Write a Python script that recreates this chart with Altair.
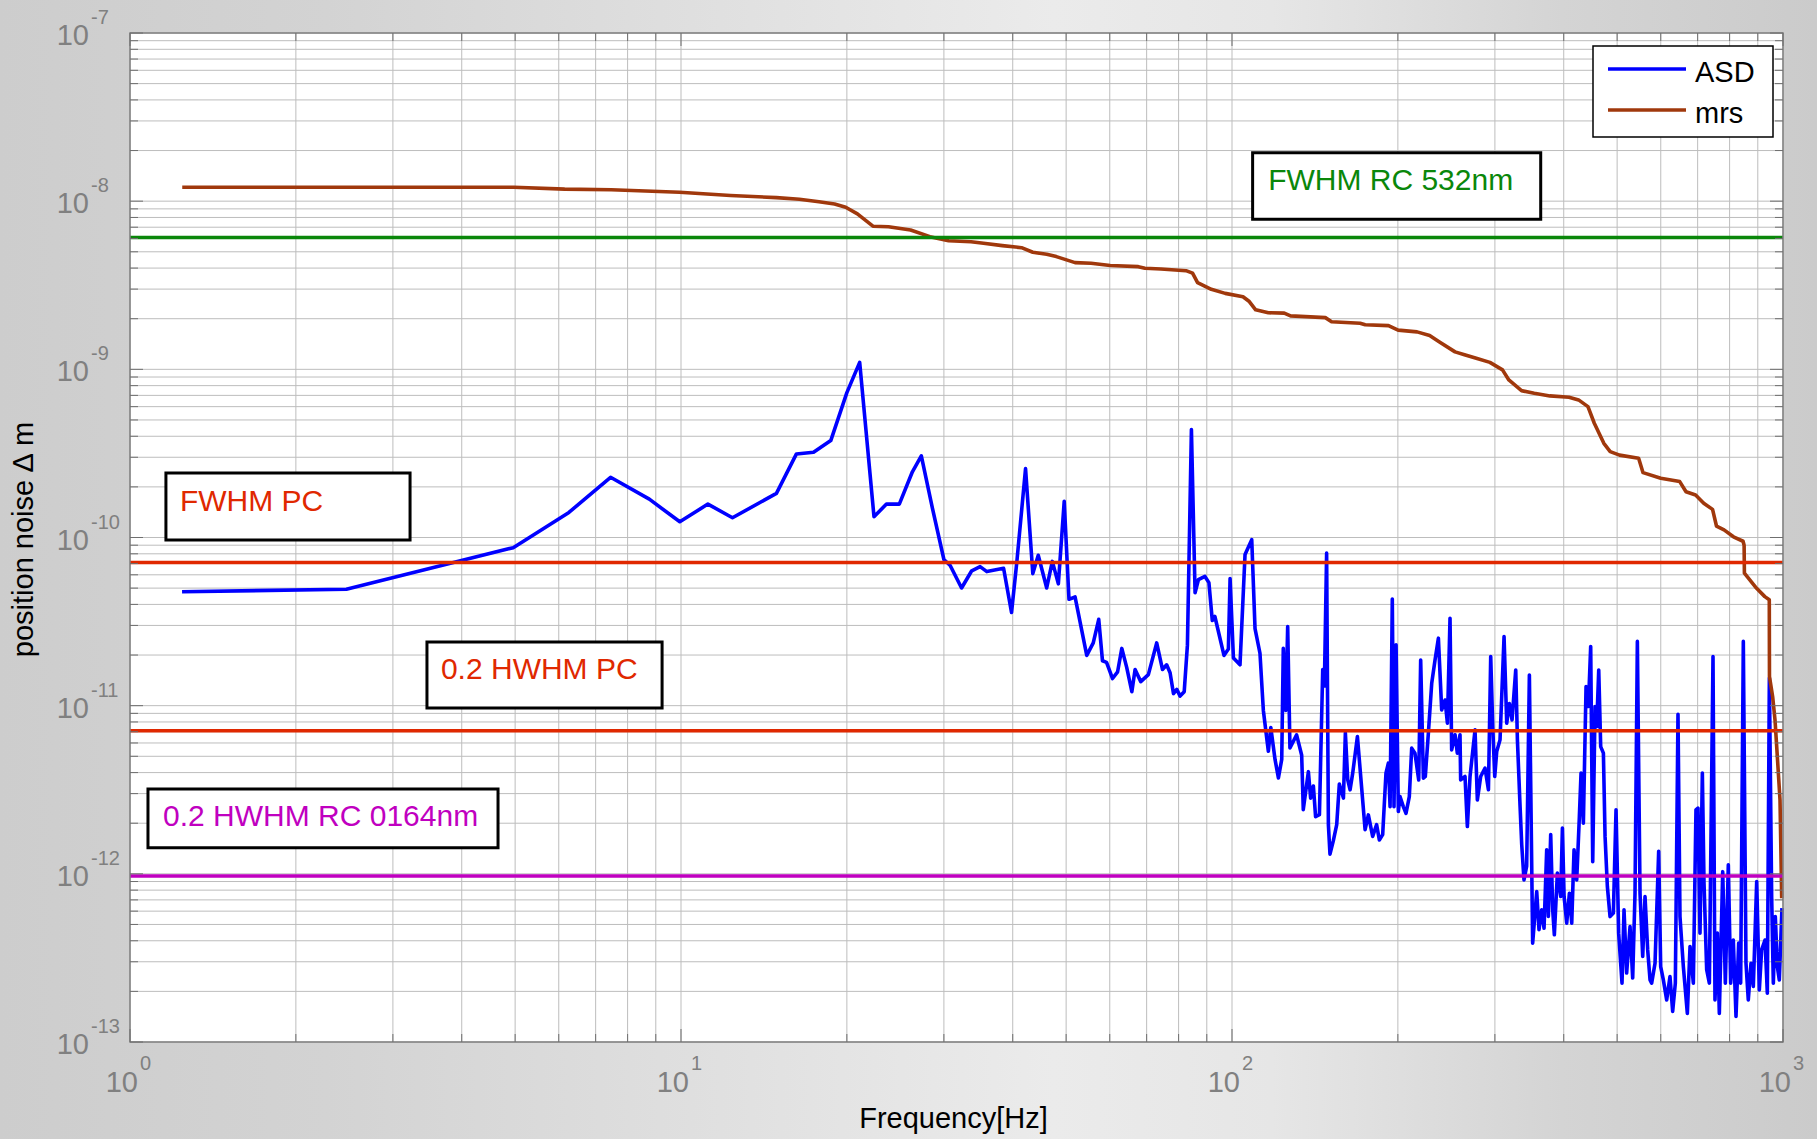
import altair as alt
import pandas as pd

# ---------------------------------------------------------------- data
# Position-noise amplitude spectral density: (frequency [Hz], amplitude [m])
asd_points_low = [
    (1.243, 4.76e-11), (2.47, 4.92e-11), (4.96, 8.7e-11), (6.26, 1.41e-10),
    (7.45, 2.28e-10), (8.76, 1.69e-10), (9.95, 1.24e-10), (11.19, 1.58e-10),
    (12.4, 1.31e-10), (14.9, 1.83e-10), (16.2, 3.14e-10), (17.4, 3.21e-10),
    (18.7, 3.77e-10), (20.0, 7.27e-10), (21.1, 1.10e-9), (22.4, 1.33e-10),
    (23.6, 1.58e-10), (24.9, 1.58e-10), (26.3, 2.46e-10), (27.3, 3.06e-10),
    (28.6, 1.49e-10), (30.0, 7.4e-11),
]
asd_points_mid = [
    (30.8, 6.82e-11), (32.3, 5.01e-11), (33.7, 6.34e-11), (34.9, 6.71e-11),
    (35.9, 6.27e-11), (38.5, 6.56e-11), (39.8, 3.58e-11), (40.7, 7.21e-11),
    (42.2, 2.57e-10), (43.5, 6.10e-11), (44.5, 7.84e-11), (46.1, 5.01e-11),
    (47.2, 7.21e-11), (48.4, 5.30e-11), (49.6, 1.64e-10), (50.6, 4.29e-11),
    (51.9, 4.43e-11), (54.5, 1.99e-11), (56.0, 2.36e-11), (57.3, 3.26e-11),
    (58.2, 1.85e-11), (59.2, 1.81e-11), (60.7, 1.45e-11), (62.0, 1.59e-11),
    (63.1, 2.19e-11), (64.4, 1.69e-11), (65.8, 1.21e-11), (66.7, 1.64e-11),
    (68.3, 1.39e-11), (70.5, 1.53e-11), (73.0, 2.36e-11), (74.8, 1.64e-11),
    (76.1, 1.75e-11), (77.2, 1.57e-11), (78.3, 1.18e-11), (79.4, 1.25e-11),
    (80.5, 1.14e-11), (81.9, 1.21e-11), (83.0, 2.29e-11), (84.4, 4.39e-10),
    (85.7, 4.69e-11), (86.9, 5.61e-11), (89.3, 5.87e-11), (90.8, 5.39e-11),
    (92.1, 3.21e-11), (93.1, 3.39e-11), (96.7, 1.99e-11), (98.5, 2.17e-11),
    (99.2, 5.70e-11), (100.6, 1.92e-11), (103.4, 1.75e-11), (105.6, 7.93e-11),
    (108.6, 9.70e-11), (110.1, 2.87e-11), (112.4, 2.05e-11), (114.0, 9.37e-12),
    (116.4, 5.36e-12), (117.6, 7.41e-12), (119.7, 4.79e-12), (121.4, 3.72e-12),
    (123.1, 4.79e-12), (123.9, 2.19e-11), (125.2, 9.37e-12), (126.2, 2.95e-11),
    (127.4, 5.60e-12), (131.0, 6.70e-12), (133.8, 5.07e-12), (134.7, 2.41e-12),
    (137.6, 4.05e-12), (138.9, 2.82e-12), (140.5, 3.33e-12), (141.8, 2.19e-12),
    (144.1, 2.25e-12), (146.1, 1.64e-11), (147.1, 1.31e-11), (148.5, 8.07e-11),
    (149.6, 1.96e-12), (150.6, 1.31e-12), (152.7, 1.57e-12), (154.9, 1.96e-12),
    (156.6, 3.42e-12), (159.3, 2.82e-12), (160.6, 6.89e-12), (162.2, 3.62e-12),
]
asd_points_high = [
    (163.8, 3.16e-12), (165.6, 3.97e-12), (168.9, 6.55e-12), (174.4, 1.83e-12),
    (176.8, 2.24e-12), (180.0, 1.67e-12), (183.0, 1.96e-12), (185.1, 1.59e-12),
    (187.7, 1.71e-12), (190.3, 3.97e-12), (192.2, 4.55e-12), (193.6, 2.51e-12),
    (195.4, 4.30e-11), (196.8, 2.51e-12), (198.5, 2.30e-11), (200.4, 2.35e-12),
    (201.8, 2.88e-12), (204.6, 2.51e-12), (206.9, 2.29e-12), (209.8, 2.88e-12),
    (211.9, 5.59e-12), (214.8, 5.22e-12), (218.2, 3.62e-12), (220.0, 1.87e-11),
    (222.5, 3.70e-12), (224.3, 3.79e-12), (227.2, 6.86e-12), (230.4, 1.36e-11),
    (233.6, 1.87e-11), (236.9, 2.52e-11), (240.2, 9.44e-12), (243.6, 1.08e-11),
    (246.0, 7.87e-12), (248.7, 3.31e-11), (250.4, 5.46e-12), (254.0, 6.71e-12),
    (256.4, 5.22e-12), (259.3, 6.71e-12), (260.0, 3.62e-12), (264.8, 3.79e-12),
    (267.4, 1.91e-12), (270.4, 3.79e-12), (276.1, 7.18e-12), (278.8, 2.75e-12),
    (282.7, 3.79e-12), (287.9, 4.25e-12), (292.0, 3.16e-12), (294.8, 1.96e-11),
    (297.3, 7.51e-12), (299.8, 3.79e-12), (302.3, 5.34e-12), (306.5, 6.26e-12),
    (311.7, 2.58e-11), (315.2, 7.87e-12), (318.7, 1.03e-11), (322.3, 8.23e-12),
    (327.3, 1.63e-11), (329.6, 6.26e-12), (333.3, 2.51e-12), (335.6, 1.49e-12),
    (338.8, 9.21e-13), (342.6, 1.11e-12), (346.5, 1.52e-11), (351.3, 3.87e-13),
    (357.3, 7.85e-13), (360.7, 4.65e-13), (364.8, 6.11e-13), (368.4, 4.75e-13),
    (372.5, 1.39e-12), (375.1, 5.57e-13), (378.8, 1.71e-12), (382.0, 6.11e-13),
    (384.6, 4.34e-13), (389.5, 1.01e-12), (395.0, 7.33e-13), (397.8, 1.87e-12),
    (400.6, 7.33e-13), (405.0, 5.09e-13), (409.6, 7.67e-13), (413.6, 5.09e-13),
    (417.6, 1.39e-12), (422.3, 9.21e-13), (427.0, 2.19e-12), (430.0, 3.97e-12),
    (434.2, 2.00e-12), (439.1, 1.30e-11), (443.4, 9.88e-12), (447.7, 2.25e-11),
    (451.5, 1.18e-12), (455.9, 9.88e-12), (459.1, 7.51e-12), (463.0, 1.63e-11),
    (466.8, 5.71e-12), (472.1, 5.22e-12), (475.4, 1.67e-12), (480.0, 8.41e-13),
    (485.4, 5.57e-13), (492.2, 5.84e-13), (497.7, 2.40e-12), (503.2, 4.44e-13),
    (510.3, 2.24e-13), (514.6, 6.11e-13), (520.3, 2.57e-13), (527.7, 4.86e-13),
    (533.6, 2.40e-13), (538.8, 7.67e-13), (544.1, 2.41e-11), (550.2, 7.67e-13),
    (556.4, 3.23e-13), (561.8, 7.33e-13), (568.1, 3.53e-13), (573.7, 2.34e-13),
    (577.6, 2.24e-13), (585.8, 2.94e-13), (594.8, 1.36e-12), (599.8, 2.81e-13),
    (606.5, 2.34e-13), (615.0, 1.78e-13), (623.6, 2.45e-13), (630.6, 1.52e-13),
    (637.7, 2.24e-13), (644.8, 8.90e-12), (650.2, 5.57e-13), (659.4, 2.81e-13),
    (670.5, 1.48e-13), (678.1, 3.70e-13), (687.5, 2.24e-13), (695.1, 2.40e-12),
    (701.0, 2.46e-12), (706.9, 4.44e-13), (713.9, 3.97e-12), (718.9, 8.80e-13),
    (726.9, 2.69e-13), (735.1, 2.24e-13), (746.4, 1.96e-11), (752.6, 1.78e-13),
    (760.1, 4.44e-13), (766.4, 1.48e-13), (777.3, 1.03e-12), (785.9, 2.24e-13),
    (795.7, 1.13e-12), (803.6, 2.24e-13), (812.5, 4.04e-13), (821.7, 1.42e-13),
    (830.9, 3.87e-13), (837.8, 2.24e-13), (847.2, 2.41e-11), (856.7, 2.94e-13),
    (865.0, 1.78e-13), (874.9, 2.94e-13), (883.4, 2.14e-13), (895.9, 9.0e-13),
    (905.8, 2.04e-13), (914.6, 3.53e-13), (927.6, 4.04e-13), (936.6, 1.95e-13),
    (944.6, 1.46e-11), (953.8, 7.17e-13), (960.4, 2.24e-13), (968.4, 5.57e-13),
    (976.6, 2.81e-13), (984.7, 2.34e-13), (995.7, 6.25e-13),
]

# Cumulative rms of the position noise: (frequency [Hz], rms [m])
mrs_points = [
    (1.244, 1.21e-8), (4.97, 1.21e-8), (6.15, 1.18e-8), (7.47, 1.17e-8),
    (9.94, 1.13e-8), (12.3, 1.08e-8), (14.9, 1.05e-8), (16.4, 1.026e-8),
    (17.8, 9.93e-9), (19.0, 9.62e-9), (19.9, 9.2e-9), (20.9, 8.4e-9),
    (22.3, 7.1e-9), (23.8, 7.05e-9), (26.1, 6.74e-9), (28.3, 6.15e-9),
    (30.6, 5.82e-9), (33.6, 5.74e-9), (35.4, 5.62e-9), (38.3, 5.44e-9),
    (41.5, 5.29e-9), (43.5, 4.97e-9), (46.1, 4.83e-9), (48.0, 4.68e-9),
    (51.9, 4.31e-9), (55.5, 4.27e-9), (60.1, 4.14e-9), (67.6, 4.08e-9),
    (69.5, 3.99e-9), (74.3, 3.95e-9), (82.5, 3.86e-9), (84.8, 3.73e-9),
    (86.6, 3.28e-9), (91.7, 2.99e-9), (97.2, 2.83e-9), (104.7, 2.70e-9),
    (107.5, 2.53e-9), (110.4, 2.26e-9), (116.4, 2.17e-9), (124.4, 2.16e-9),
    (127.7, 2.08e-9), (147.7, 2.03e-9), (151.6, 1.92e-9), (170.8, 1.88e-9),
    (174.5, 1.84e-9), (192.3, 1.82e-9), (200.2, 1.71e-9), (216.7, 1.67e-9),
    (228.4, 1.59e-9), (237.6, 1.46e-9), (254.0, 1.27e-9), (264.2, 1.22e-9),
    (278.5, 1.16e-9), (293.8, 1.10e-9), (309.7, 9.93e-10), (318.0, 8.65e-10),
    (335.3, 7.47e-10), (353.6, 7.21e-10), (377.6, 6.95e-10), (408.9, 6.83e-10),
    (425.6, 6.58e-10), (442.6, 6.0e-10), (454.5, 4.78e-10), (473.0, 3.63e-10),
    (485.7, 3.24e-10), (505.1, 3.09e-10), (547.0, 2.96e-10), (557.2, 2.43e-10),
    (600.0, 2.25e-10), (649.5, 2.15e-10), (666.8, 1.87e-10), (694.0, 1.79e-10),
    (718.0, 1.6e-10), (745.0, 1.47e-10), (757.3, 1.17e-10), (781.6, 1.11e-10),
    (813.0, 1.01e-10), (846.3, 9.5e-11), (850.0, 9.0e-11), (851.0, 6.14e-11),
    (895.5, 4.99e-11), (926.8, 4.45e-11), (944.3, 4.26e-11), (945.0, 1.49e-11),
    (957.7, 1.13e-11), (967.2, 8.2e-12), (976.6, 4.98e-12), (987.6, 2.75e-12),
    (994.6, 7.16e-13),
]

series_names = ["ASD", "mrs"]
series_colors = ["#0000ff", "#a0380c"]

# Resolution limits drawn as horizontal lines
limit_labels = ["FWHM RC 532nm", "FWHM PC", "0.2 HWHM PC", "0.2 HWHM RC 0164nm"]
limit_values = [6.08e-9, 7.1e-11, 7.1e-12, 9.7e-13]
limit_colors = ["#0a870a", "#e02800", "#e02800", "#c000c0"]

x_tick_exponents = [0, 1, 2, 3]
y_tick_exponents = [-7, -8, -9, -10, -11, -12, -13]

# ---------------------------------------------------------------- layout
W, H = 1653, 1009
PAD = {"left": 130, "top": 33, "right": 34, "bottom": 97}
FONT = "Liberation Sans"
GRID_COLOR = "#bdbdbd"
TICK_COLOR = "#6f6f6f"
TICK_LABEL_COLOR = "#808080"
CURVE_WIDTH = 3.6
LIMIT_WIDTH = 3.4

# label boxes, in frequency / amplitude units
box_f0 = [109.0, 1.162, 3.459, 1.078]
box_f1 = [363.3, 3.223, 9.24, 4.655]
box_top = [1.942e-8, 2.42e-10, 2.39e-11, 3.2e-12]
box_bottom = [7.81e-9, 9.67e-11, 9.70e-12, 1.43e-12]
text_f = [116.3, 1.232, 3.667, 1.148]
text_v = [1.165e-8, 1.439e-10, 1.443e-11, 1.93e-12]

xs = alt.Scale(type="log", domain=[1, 1000], nice=False)
ys = alt.Scale(type="log", domain=[1e-13, 1e-7], nice=False)


def one_row():
    return pd.DataFrame({"k": [0]})


# ---------------------------------------------------------------- tables
rows = []
for name, pts in (("ASD", asd_points_low + asd_points_mid + asd_points_high),
                  ("mrs", mrs_points)):
    for i, (f, v) in enumerate(pts):
        rows.append({"series": name, "f": f, "v": v, "i": i})
lines_df = pd.DataFrame(rows)

limits_df = pd.DataFrame({"label": limit_labels, "v": limit_values, "color": limit_colors})
boxes_df = pd.DataFrame({
    "label": limit_labels, "color": limit_colors,
    "f0": box_f0, "f1": box_f1, "top": box_top, "bottom": box_bottom,
    "tf": text_f, "tv": text_v,
})

x_major = [10.0 ** e for e in x_tick_exponents]
y_major = [10.0 ** e for e in y_tick_exponents]
x_grid = [m * 10.0 ** e for e in x_tick_exponents[:-1] for m in range(1, 10)] + [x_major[-1]]
y_grid = [m * 10.0 ** e for e in y_tick_exponents[::-1][:-1] for m in range(1, 10)] + [y_major[0]]
x_minor = [f for f in x_grid if f not in x_major]
y_minor = [v for v in y_grid if v not in y_major]

xgrid_df = pd.DataFrame({"f": x_grid})
ygrid_df = pd.DataFrame({"v": y_grid})
xmaj_df = pd.DataFrame({"f": x_major})
xmin_df = pd.DataFrame({"f": x_minor})
ymaj_df = pd.DataFrame({"v": y_major})
ymin_df = pd.DataFrame({"v": y_minor})

xlab_df = pd.DataFrame({"f": x_major, "base": "10", "exp": [str(e) for e in x_tick_exponents]})
ylab_df = pd.DataFrame({"v": y_major, "base": "10", "exp": [str(e) for e in y_tick_exponents]})

# ---------------------------------------------------------------- layers
layers = []

# slide-style grey backdrop
backdrop = alt.LinearGradient(
    gradient="linear", x1=0, x2=1, y1=0, y2=0,
    stops=[
        alt.GradientStop(color="#cdcdcd", offset=0),
        alt.GradientStop(color="#d3d3d3", offset=0.18),
        alt.GradientStop(color="#ebebeb", offset=0.58),
        alt.GradientStop(color="#e6e6e6", offset=0.7),
        alt.GradientStop(color="#d4d4d4", offset=0.86),
        alt.GradientStop(color="#cbcbcb", offset=1),
    ],
)
layers.append(
    alt.Chart(one_row()).mark_rect(fill=backdrop, strokeWidth=0).encode(
        x=alt.value(-PAD["left"]), x2=alt.value(W + PAD["right"]),
        y=alt.value(-PAD["top"]), y2=alt.value(H + PAD["bottom"]),
    )
)

# white plotting area
layers.append(
    alt.Chart(one_row()).mark_rect(fill="white", strokeWidth=0).encode(
        x=alt.X(datum=1, scale=xs), x2=alt.X2(datum=1000),
        y=alt.Y(datum=1e-7, scale=ys), y2=alt.Y2(datum=1e-13),
    )
)

# log grid
layers.append(
    alt.Chart(xgrid_df).mark_rule(color=GRID_COLOR, strokeWidth=1).encode(
        x=alt.X("f:Q", scale=xs), y=alt.value(0), y2=alt.value(H)
    )
)
layers.append(
    alt.Chart(ygrid_df).mark_rule(color=GRID_COLOR, strokeWidth=1).encode(
        y=alt.Y("v:Q", scale=ys), x=alt.value(0), x2=alt.value(W)
    )
)

# ASD and cumulative rms curves
for name, color in zip(series_names, series_colors):
    layers.append(
        alt.Chart(lines_df[lines_df.series == name]).mark_line(
            color=color, strokeWidth=CURVE_WIDTH, strokeJoin="round"
        ).encode(
            x=alt.X("f:Q", scale=xs),
            y=alt.Y("v:Q", scale=ys),
            order="i:Q",
        )
    )

# resolution limits
layers.append(
    alt.Chart(limits_df).mark_rule(strokeWidth=LIMIT_WIDTH).encode(
        y=alt.Y("v:Q", scale=ys),
        x=alt.X(datum=1, scale=xs), x2=alt.X2(datum=1000),
        color=alt.Color("color:N", scale=None),
    )
)

# label boxes
layers.append(
    alt.Chart(boxes_df).mark_rect(fill="white", stroke="black", strokeWidth=3).encode(
        x=alt.X("f0:Q", scale=xs), x2="f1:Q",
        y=alt.Y("top:Q", scale=ys), y2="bottom:Q",
    )
)
layers.append(
    alt.Chart(boxes_df).mark_text(
        font=FONT, fontSize=30, align="left", baseline="alphabetic"
    ).encode(
        x=alt.X("tf:Q", scale=xs), y=alt.Y("tv:Q", scale=ys),
        text="label:N", color=alt.Color("color:N", scale=None),
    )
)

# plot frame
layers.append(
    alt.Chart(one_row()).mark_rect(fillOpacity=0, stroke="#808080", strokeWidth=1.5).encode(
        x=alt.X(datum=1, scale=xs), x2=alt.X2(datum=1000),
        y=alt.Y(datum=1e-7, scale=ys), y2=alt.Y2(datum=1e-13),
    )
)

# inward ticks on all four sides
for df, ln in ((ymaj_df, 13), (ymin_df, 8)):
    layers.append(alt.Chart(df).mark_rule(color=TICK_COLOR, strokeWidth=1).encode(
        y=alt.Y("v:Q", scale=ys), x=alt.value(0), x2=alt.value(ln)))
    layers.append(alt.Chart(df).mark_rule(color=TICK_COLOR, strokeWidth=1).encode(
        y=alt.Y("v:Q", scale=ys), x=alt.value(W - ln), x2=alt.value(W)))
for df, ln in ((xmaj_df, 13), (xmin_df, 8)):
    layers.append(alt.Chart(df).mark_rule(color=TICK_COLOR, strokeWidth=1).encode(
        x=alt.X("f:Q", scale=xs), y=alt.value(H - ln), y2=alt.value(H)))
    layers.append(alt.Chart(df).mark_rule(color=TICK_COLOR, strokeWidth=1).encode(
        x=alt.X("f:Q", scale=xs), y=alt.value(0), y2=alt.value(ln)))

# tick labels as 10 with a raised exponent
layers.append(alt.Chart(ylab_df).mark_text(
    font=FONT, fontSize=29, color=TICK_LABEL_COLOR, align="right", baseline="alphabetic", dy=12
).encode(y=alt.Y("v:Q", scale=ys), x=alt.value(-41), text="base:N"))
layers.append(alt.Chart(ylab_df).mark_text(
    font=FONT, fontSize=20, color=TICK_LABEL_COLOR, align="left", baseline="alphabetic", dy=-9
).encode(y=alt.Y("v:Q", scale=ys), x=alt.value(-39), text="exp:N"))
layers.append(alt.Chart(xlab_df).mark_text(
    font=FONT, fontSize=29, color=TICK_LABEL_COLOR, align="right", baseline="alphabetic", dx=8
).encode(x=alt.X("f:Q", scale=xs), y=alt.value(H + 50), text="base:N"))
layers.append(alt.Chart(xlab_df).mark_text(
    font=FONT, fontSize=20, color=TICK_LABEL_COLOR, align="left", baseline="alphabetic", dx=10
).encode(x=alt.X("f:Q", scale=xs), y=alt.value(H + 28), text="exp:N"))

# axis titles
layers.append(alt.Chart(one_row()).mark_text(
    font=FONT, fontSize=29, color="black", align="center", baseline="alphabetic",
    text="Frequency[Hz]",
).encode(x=alt.value(W / 2 - 3), y=alt.value(H + 86)))
layers.append(alt.Chart(one_row()).mark_text(
    font=FONT, fontSize=29, color="black", align="center", baseline="alphabetic",
    angle=270, text="position noise \u2206 m",
).encode(x=alt.value(-97), y=alt.value(H / 2 + 2)))

# legend box
LEG_X0, LEG_X1, LEG_Y0, LEG_Y1 = W - 190, W - 10, 13, 104
layers.append(alt.Chart(one_row()).mark_rect(fill="white", stroke="black", strokeWidth=1.5).encode(
    x=alt.value(LEG_X0), x2=alt.value(LEG_X1), y=alt.value(LEG_Y0), y2=alt.value(LEG_Y1)))
for r, (name, color) in enumerate(zip(series_names, series_colors)):
    ly = 36 + 41 * r
    layers.append(alt.Chart(one_row()).mark_rule(color=color, strokeWidth=3.4).encode(
        x=alt.value(LEG_X0 + 15), x2=alt.value(LEG_X0 + 93), y=alt.value(ly)))
    layers.append(alt.Chart(one_row()).mark_text(
        font=FONT, fontSize=29, color="black", align="left", baseline="alphabetic", text=name
    ).encode(x=alt.value(LEG_X0 + 102), y=alt.value(ly + 13)))

# slide footer mark in the corner
layers.append(alt.Chart(one_row()).mark_rect(fill="white", strokeWidth=0).encode(
    x=alt.value(W + 111), x2=alt.value(W + 135), y=alt.value(H + 85), y2=alt.value(H + 97)))
layers.append(alt.Chart(one_row()).mark_rect(fill="#a30000", strokeWidth=0).encode(
    x=alt.value(W + 135), x2=alt.value(W + 164), y=alt.value(H + 88), y2=alt.value(H + 97)))

chart = alt.layer(*layers).properties(
    width=W,
    height=H,
    padding=PAD,
    autosize=alt.AutoSizeParams(type="none"),
    background="#d4d4d4",
).configure_view(strokeWidth=0)

chart.save("out.html", embed_options={"renderer": "svg", "actions": False})
